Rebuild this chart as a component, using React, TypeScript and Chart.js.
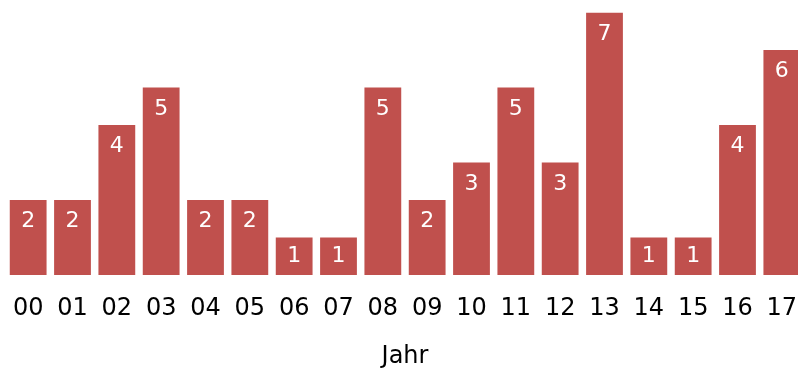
import React, { useEffect, useRef } from "react";
import { Chart, registerables } from "chart.js";

Chart.register(...registerables);

const years: string[] = [
  "00", "01", "02", "03", "04", "05", "06", "07", "08",
  "09", "10", "11", "12", "13", "14", "15", "16", "17",
];
const counts: number[] = [2, 2, 4, 5, 2, 2, 1, 1, 5, 2, 3, 5, 3, 7, 1, 1, 4, 6];

const BAR_COLOR = "#C0504D";
const FONT = "'DejaVu Sans', Verdana, sans-serif";

// Writes each bar's value in white just below the top of the bar.
const valueLabels = {
  id: "valueLabels",
  afterDatasetsDraw(chart: Chart) {
    const { ctx } = chart;
    const meta = chart.getDatasetMeta(0);
    const data = chart.data.datasets[0].data as number[];
    ctx.save();
    ctx.fillStyle = "#ffffff";
    ctx.font = `22px ${FONT}`;
    ctx.textAlign = "center";
    ctx.textBaseline = "middle";
    meta.data.forEach((el: any, i: number) => {
      const top = el.y;
      const bottom = el.base;
      const y = Math.min(top + 21.5, (top + bottom) / 2);
      ctx.fillText(String(data[i]), el.x, y);
    });
    ctx.restore();
  },
};

export default function App() {
  const canvasRef = useRef<HTMLCanvasElement | null>(null);

  useEffect(() => {
    if (!canvasRef.current) return;
    const chart = new Chart(canvasRef.current, {
      type: "bar",
      data: {
        labels: years,
        datasets: [
          {
            data: counts,
            backgroundColor: BAR_COLOR,
            borderWidth: 0,
            barPercentage: 0.83,
            categoryPercentage: 1,
          },
        ],
      },
      options: {
        responsive: false,
        animation: false,
        layout: { padding: { top: 12.5, left: 6, right: 6, bottom: 0 } },
        plugins: {
          legend: { display: false },
          tooltip: { enabled: false },
        },
        scales: {
          x: {
            grid: { display: false, drawTicks: false },
            border: { display: false },
            afterFit(scale: any) {
              // keep the edge labels from pushing the plot area inwards
              scale.paddingLeft = 0;
              scale.paddingRight = 0;
            },
            ticks: {
              color: "#000000",
              padding: 19.6,
              maxRotation: 0,
              autoSkip: false,
              font: { family: FONT, size: 24, lineHeight: 1.2 },
            },
            title: {
              display: true,
              text: "Jahr",
              color: "#000000",
              padding: { top: 2, bottom: 0 },
              font: { family: FONT, size: 24, lineHeight: 1 },
            },
          },
          y: {
            display: false,
            min: 0,
            max: 7,
          },
        },
      },
      plugins: [valueLabels],
    });
    return () => chart.destroy();
  }, []);

  return (
    <div
      style={{
        position: "fixed",
        left: 0,
        top: 0,
        width: 798,
        height: 369,
        overflow: "hidden",
        background: "#ffffff",
      }}
    >
      <canvas ref={canvasRef} width={810} height={369} style={{ display: "block" }} />
    </div>
  );
}
